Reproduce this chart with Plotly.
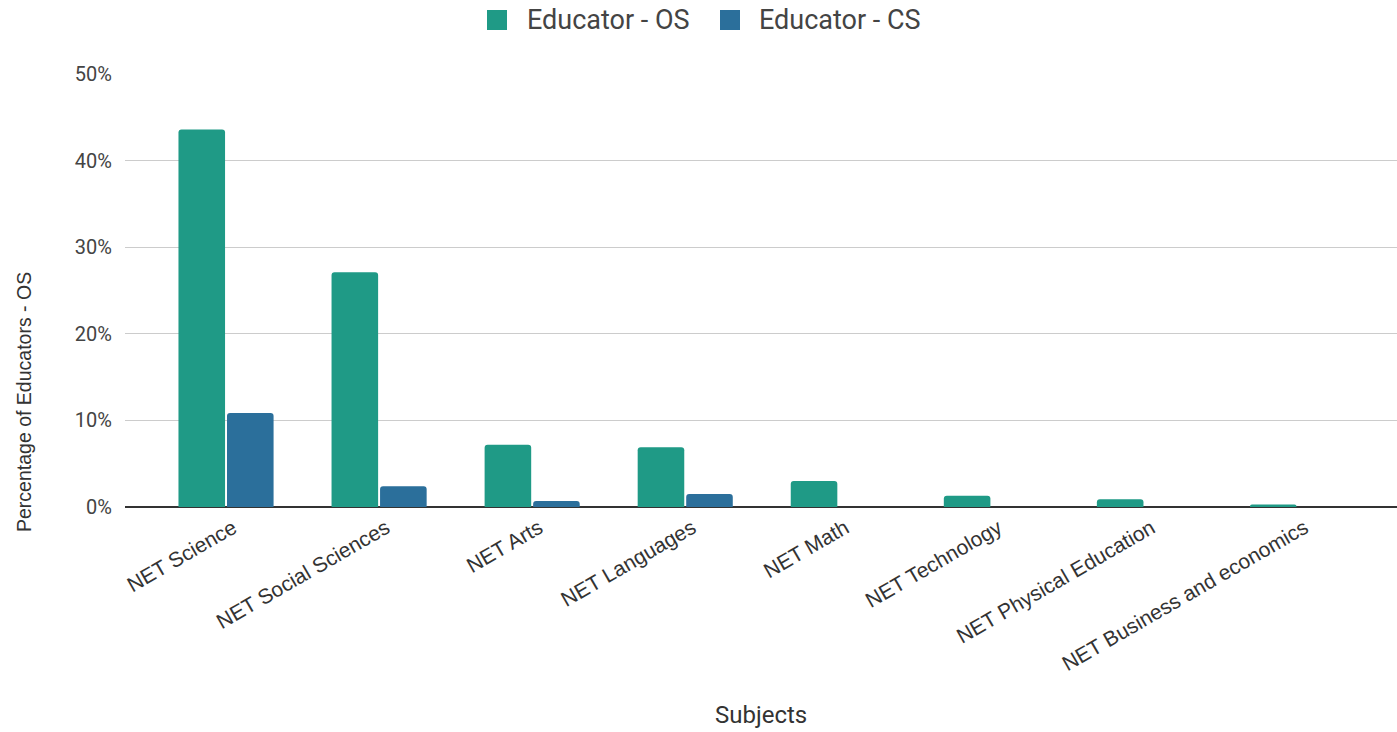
import plotly.graph_objects as go

categories = ["NET Science", "NET Social Sciences", "NET Arts", "NET Languages",
              "NET Math", "NET Technology", "NET Physical Education",
              "NET Business and economics"]
educator_os = [0.436, 0.271, 0.072, 0.069, 0.030, 0.013, 0.009, 0.003]
educator_cs = [0.1085, 0.024, 0.007, 0.015, 0.0, 0.0, 0.0, 0.0]
series_names = ["Educator - OS", "Educator - CS"]
y_ticks = [0, 0.1, 0.2, 0.3, 0.4, 0.5]
y_tick_labels = ["0%", "10%", "20%", "30%", "40%", "50%"]

OS_COLOR = "#1f9a86"
CS_COLOR = "#2b6f9b"

# figure geometry (page body margin removed via post_script)
W, H = 1397, 732
ML, MT, MB, MR = 125, 74, 225, 0
PW, PH = W - ML - MR, H - MT - MB


def px(fx):
    return (fx - ML) / PW


def py(fy):
    return (H - MB - fy) / PH


fig = go.Figure()
fig.add_trace(go.Bar(name=series_names[0], x=categories, y=educator_os, showlegend=False,
                     marker=dict(color=OS_COLOR, cornerradius=3, line=dict(width=0))))
fig.add_trace(go.Bar(name=series_names[1], x=categories, y=educator_cs, showlegend=False,
                     marker=dict(color=CS_COLOR, cornerradius=3, line=dict(width=0))))

shapes = []
annotations = []
# manual legend
legend_items = [(series_names[0], OS_COLOR, 487, 525), (series_names[1], CS_COLOR, 720, 757)]
for name, col, sx, tx in legend_items:
    shapes.append(dict(type="rect", xref="paper", yref="paper",
                       x0=px(sx), x1=px(sx + 20), y0=py(30), y1=py(10),
                       fillcolor=col, line=dict(width=0), layer="above"))
    annotations.append(dict(text=name, xref="paper", yref="paper", x=px(tx), y=py(20),
                            xanchor="left", yanchor="middle", showarrow=False,
                            font=dict(family="Roboto", size=27, color="#444")))

annotations.append(dict(text="Subjects", xref="paper", yref="paper", x=px(761), y=py(715),
                        xanchor="center", yanchor="middle", showarrow=False,
                        font=dict(family="Roboto", size=24, color="#333")))
annotations.append(dict(text="Percentage of Educators - OS", xref="paper", yref="paper",
                        x=px(24), y=py(402), xanchor="center", yanchor="middle",
                        textangle=-90, showarrow=False,
                        font=dict(family="Liberation Sans, Arial", size=19.5, color="#333")))

fig.update_layout(
    width=W, height=H,
    margin=dict(l=ML, r=MR, t=MT, b=MB, autoexpand=False),
    paper_bgcolor="white", plot_bgcolor="white",
    barmode="group", bargap=0.366, bargroupgap=0.04,
    font=dict(family="Roboto, Arial, sans-serif", color="#444"),
    showlegend=False,
    shapes=shapes, annotations=annotations,
)
fig.update_xaxes(
    range=[-0.66, 7.65], tickangle=-30, automargin=False,
    tickfont=dict(family="Liberation Sans, Arial", size=21, color="#333"),
    showgrid=False, showline=False, ticks="",
    ticklabelshift=7, ticklabelstandoff=4,
)
fig.update_yaxes(
    range=[0, 0.5], tickvals=y_ticks, ticktext=y_tick_labels, automargin=False,
    tickfont=dict(family="Roboto", size=20, color="#444"),
    showgrid=True, gridcolor="#cccccc", gridwidth=1,
    zeroline=True, zerolinecolor="#333333", zerolinewidth=2,
    ticks="", ticklabelstandoff=12,
)

fig.write_html(
    "out.html",
    config={"displayModeBar": False},
    post_script="document.documentElement.style.margin='0';document.body.style.margin='0';"
                "document.body.style.overflow='hidden';",
)
